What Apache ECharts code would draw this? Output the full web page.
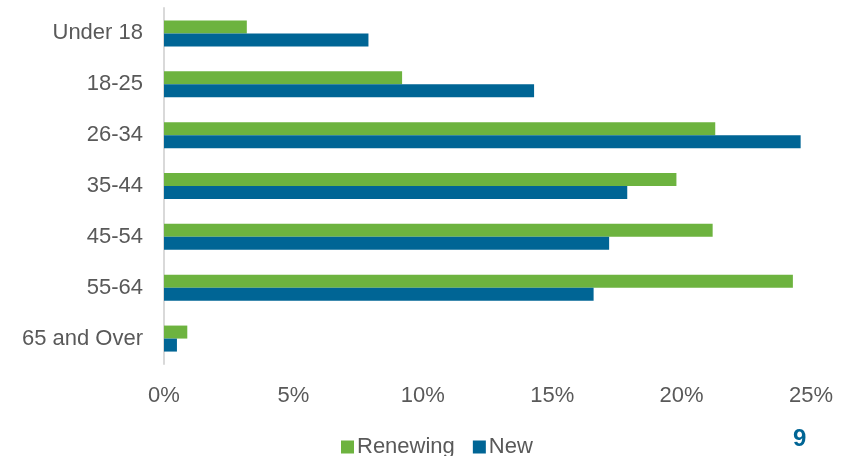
<!DOCTYPE html>
<html>
<head>
<meta charset="utf-8">
<script src="https://cdn.jsdelivr.net/npm/echarts@6/dist/echarts.min.js"></script>
<style>
  html, body { margin: 0; padding: 0; background: #fff; }
  #chart { width: 850px; height: 456px; }
</style>
</head>
<body>
<div id="chart"></div>
<script>
var ageGroups = ['Under 18', '18-25', '26-34', '35-44', '45-54', '55-64', '65 and Over'];
var renewing = [3.2, 9.2, 21.3, 19.8, 21.2, 24.3, 0.9];
var newMembers = [7.9, 14.3, 24.6, 17.9, 17.2, 16.6, 0.5];
var pctTicks = [0, 5, 10, 15, 20, 25];

var chart = echarts.init(document.getElementById('chart'));
var labelFont = 'Liberation Sans';

var option = {
  animation: false,
  grid: { left: 164, right: 39, top: 8, bottom: 92, containLabel: false },
  legend: {
    left: 336,
    top: 431,
    itemWidth: 13,
    itemHeight: 13,
    itemGap: 18,
    icon: 'rect',
    textStyle: { fontFamily: labelFont, fontSize: 22, color: '#595959', padding: [0, 0, 0, -2] },
    data: ['Renewing', 'New']
  },
  xAxis: {
    type: 'value',
    min: pctTicks[0],
    max: pctTicks[pctTicks.length - 1],
    interval: 5,
    axisLine: { show: false },
    axisTick: { show: false },
    splitLine: { show: false },
    axisLabel: {
      formatter: '{value}%',
      fontFamily: labelFont,
      fontSize: 22,
      color: '#595959',
      margin: 21
    }
  },
  yAxis: {
    type: 'category',
    inverse: true,
    data: ageGroups,
    axisLine: { show: true, lineStyle: { color: '#d9d9d9', width: 2 } },
    axisTick: { show: false },
    axisLabel: {
      fontFamily: labelFont,
      fontSize: 22,
      color: '#595959',
      margin: 21
    }
  },
  series: [
    {
      name: 'Renewing',
      type: 'bar',
      data: renewing,
      barWidth: 13,
      barGap: '0%',
      itemStyle: { color: '#6db33f' }
    },
    {
      name: 'New',
      type: 'bar',
      data: newMembers,
      barWidth: 13,
      barGap: '0%',
      itemStyle: { color: '#006595' }
    }
  ],
  graphic: [{
    type: 'text',
    left: 793,
    top: 427,
    style: {
      text: '9',
      fontFamily: labelFont,
      fontWeight: 'bold',
      fontSize: 24,
      fill: '#006595'
    }
  }]
};

chart.setOption(option);
</script>
</body>
</html>
